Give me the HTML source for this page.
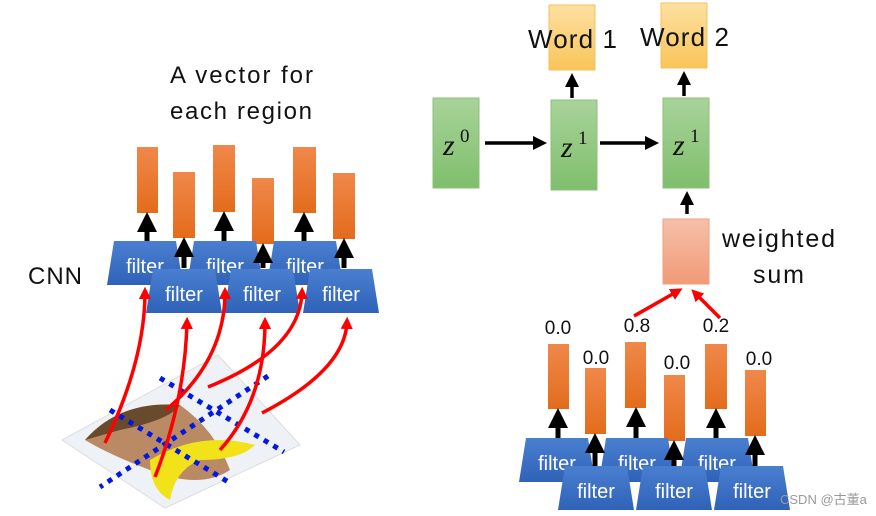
<!DOCTYPE html>
<html><head><meta charset="utf-8"><style>
body{margin:0;background:#fff;}
svg{display:block;font-family:"Liberation Sans","Noto Sans CJK SC",sans-serif;}
</style></head><body>
<svg width="876" height="516" viewBox="0 0 876 516" xmlns="http://www.w3.org/2000/svg">
<defs>
<linearGradient id="or" x1="0" y1="0" x2="0" y2="1"><stop offset="0" stop-color="#f0884a"/><stop offset="1" stop-color="#e36c1c"/></linearGradient>
<linearGradient id="bl" x1="0" y1="0" x2="0" y2="1"><stop offset="0" stop-color="#4a7fd0"/><stop offset="1" stop-color="#2f62b8"/></linearGradient>
<linearGradient id="gr" x1="0" y1="0" x2="0" y2="1"><stop offset="0" stop-color="#a9d39a"/><stop offset="1" stop-color="#7fbf6c"/></linearGradient>
<linearGradient id="yl" x1="0" y1="0" x2="0" y2="1"><stop offset="0" stop-color="#fde0a0"/><stop offset="1" stop-color="#f9c55a"/></linearGradient>
<linearGradient id="sm" x1="0" y1="0" x2="0" y2="1"><stop offset="0" stop-color="#f6c0a8"/><stop offset="1" stop-color="#f19a78"/></linearGradient>
<marker id="ab" markerWidth="4" markerHeight="4" refX="2" refY="2" orient="auto" markerUnits="strokeWidth"><path d="M0,0 L4,2 L0,4 z" fill="#000"/></marker>
<marker id="ar" markerWidth="3.5" markerHeight="3.5" refX="2" refY="1.75" orient="auto" markerUnits="strokeWidth"><path d="M0,0 L3.5,1.75 L0,3.5 z" fill="#f00"/></marker>
<g id="fb"><polygon points="-31,0 31,0 38,44 -38,44" fill="url(#bl)"/><text x="0" y="32" text-anchor="middle" font-size="20" fill="#fff">filter</text></g>
</defs>

<!-- Left texts -->
<text x="170" y="83" font-size="24" fill="#111" textLength="143">A vector for</text>
<text x="170" y="119" font-size="24" fill="#111" textLength="142">each region</text>
<text x="28" y="284" font-size="24" fill="#111" textLength="54">CNN</text>

<!-- image -->
<polygon points="218,355 300,445 165,508 62,440" fill="#eef1f6" stroke="#ddd"/>
<path d="M85,440 Q120,400 180,405 Q215,430 230,470 Q200,490 150,470 Q110,455 85,440z" fill="#b98a64"/>
<path d="M85,440 Q120,400 180,405 Q170,420 120,430 z" fill="#6a4a2c"/>
<path d="M150,460 Q200,430 255,445 Q240,460 200,460 Q175,470 170,500 Q150,490 150,460z" fill="#f2e21a"/>

<!-- blue dotted -->
<g stroke="#0018e0" stroke-width="5" stroke-dasharray="5,6" fill="none">
<line x1="160" y1="378" x2="284" y2="452"/>
<line x1="110" y1="410" x2="230" y2="483"/>
<line x1="268" y1="376" x2="100" y2="487"/>
</g>

<!-- left bars -->
<g fill="url(#or)">
<rect x="137" y="147" width="21" height="66"/><rect x="173" y="172" width="22" height="66"/>
<rect x="213" y="145" width="22" height="67"/><rect x="252" y="178" width="22" height="66"/>
<rect x="293" y="147" width="23" height="66"/><rect x="333" y="173" width="22" height="66"/>
</g>
<use href="#fb" x="145" y="241"/><use href="#fb" x="225" y="241"/><use href="#fb" x="305" y="241"/>
<g stroke="#000" stroke-width="5" marker-end="url(#ab)">
<line x1="147" y1="241" x2="147" y2="222"/><line x1="224" y1="241" x2="224" y2="221"/><line x1="304" y1="241" x2="304" y2="222"/>
<line x1="184" y1="268" x2="184" y2="247"/><line x1="263" y1="268" x2="263" y2="253"/><line x1="344" y1="268" x2="344" y2="248"/>
</g>
<use href="#fb" x="184" y="269"/><use href="#fb" x="262" y="269"/><use href="#fb" x="341" y="269"/>

<g stroke="#f00" stroke-width="3.5" fill="none" marker-end="url(#ar)">
<path d="M105,443 Q145,360 145,292"/>
<path d="M155,477 Q185,400 187,322"/>
<path d="M166,410 Q225,360 225,292"/>
<path d="M220,450 Q265,400 265,322"/>
<path d="M208,387 Q300,350 302,292"/>
<path d="M262,413 Q345,370 347,322"/>
</g>

<!-- right top -->
<rect x="549" y="5" width="46" height="65" fill="url(#yl)" stroke="#f4c060"/>
<rect x="661" y="3" width="46" height="65" fill="url(#yl)" stroke="#f4c060"/>
<text x="528" y="48" font-size="26" fill="#111" textLength="89">Word 1</text>
<text x="640" y="46" font-size="26" fill="#111" textLength="89">Word 2</text>
<rect x="433" y="98" width="46" height="90" fill="url(#gr)" stroke="#8cc07a"/>
<rect x="551" y="100" width="46" height="90" fill="url(#gr)" stroke="#8cc07a"/>
<rect x="663" y="98" width="46" height="90" fill="url(#gr)" stroke="#8cc07a"/>
<g font-family="Liberation Serif,serif" font-style="italic" fill="#111">
<text x="443" y="155" font-size="30">z</text><text x="460" y="142" font-size="19" font-style="normal">0</text>
<text x="561" y="157" font-size="30">z</text><text x="578" y="144" font-size="19" font-style="normal">1</text>
<text x="673" y="155" font-size="30">z</text><text x="690" y="142" font-size="19" font-style="normal">1</text>
</g>
<g stroke="#000" stroke-width="3.5" marker-end="url(#ab)">
<line x1="485" y1="143" x2="540" y2="143"/><line x1="600" y1="143" x2="652" y2="143"/>
<line x1="572" y1="98" x2="572" y2="80"/><line x1="684" y1="96" x2="684" y2="78"/><line x1="687" y1="214" x2="687" y2="198"/>
</g>
<rect x="663" y="219" width="46" height="65" fill="url(#sm)" stroke="#eea080"/>
<text x="722" y="247" font-size="25" fill="#111" textLength="113">weighted</text>
<text x="753" y="283" font-size="25" fill="#111" textLength="51">sum</text>
<g stroke="#f00" stroke-width="3.5" marker-end="url(#ar)">
<line x1="634" y1="316" x2="678" y2="291"/><line x1="720" y1="318" x2="695" y2="293"/>
</g>

<!-- right bottom -->
<g font-size="19" fill="#111" text-anchor="middle">
<text x="558" y="334">0.0</text><text x="596" y="364">0.0</text><text x="637" y="332">0.8</text>
<text x="677" y="369">0.0</text><text x="716" y="332">0.2</text><text x="759" y="365">0.0</text>
</g>
<g fill="url(#or)">
<rect x="548" y="344" width="21" height="65"/><rect x="585" y="368" width="21" height="66"/>
<rect x="625" y="342" width="21" height="66"/><rect x="664" y="375" width="21" height="66"/>
<rect x="705" y="344" width="22" height="65"/><rect x="745" y="370" width="21" height="66"/>
</g>
<use href="#fb" x="557" y="438"/><use href="#fb" x="637" y="438"/><use href="#fb" x="717" y="438"/>
<g stroke="#000" stroke-width="5" marker-end="url(#ab)">
<line x1="558" y1="438" x2="558" y2="418"/><line x1="636" y1="438" x2="636" y2="417"/><line x1="716" y1="438" x2="716" y2="418"/>
<line x1="595" y1="466" x2="595" y2="443"/><line x1="674" y1="466" x2="674" y2="450"/><line x1="755" y1="466" x2="755" y2="445"/>
</g>
<use href="#fb" x="596" y="466"/><use href="#fb" x="674" y="466"/><use href="#fb" x="752" y="466"/>
<text x="780" y="504" font-size="13" fill="#999">CSDN @古董a</text>
</svg>
</body></html>
